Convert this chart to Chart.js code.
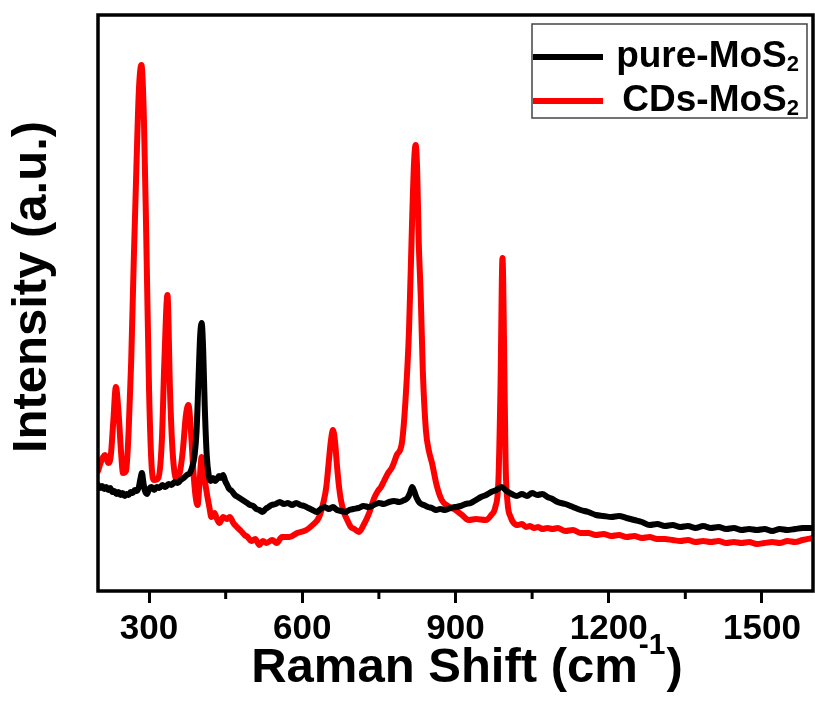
<!DOCTYPE html>
<html><head><meta charset="utf-8">
<script src="https://cdn.jsdelivr.net/npm/chart.js@4.4.1/dist/chart.umd.min.js"></script>
<style>html,body{margin:0;padding:0;background:#fff;}canvas{display:block;}</style>
</head><body>
<canvas id="c" width="815" height="716"></canvas>
<script>
// ---- data ----
const seriesLabels = ['pure-MoS₂', 'CDs-MoS₂'];
const seriesColors = ['#000000', '#ff0000'];
const xTitleMain = 'Raman Shift (cm';
const xTitleSup = '-1';
const xTitleEnd = ')';
const yTitle = 'Intensity (a.u.)';
const majorTicks = [300, 600, 900, 1200, 1500];
const minorTicks = [450, 750, 1050, 1350];

const ramanShiftPure = [
200,204,208,212,216,220,224,228,232,236,
240,244,248,252,256,260,264,268,272,276,
280,283,286,289,292,296,300,305,310,315,
320,326,332,338,344,350,356,362,368,374,
380,385,389,393,397,400,403,406,409,413,
417,421,425,429,433,437,441,445,449,453,
457,462,468,474,480,486,492,498,504,510,
516,522,528,534,540,548,556,564,572,580,
588,596,604,612,620,628,636,644,652,660,
668,676,684,692,700,710,720,730,740,750,
760,770,780,790,800,806,811,815,819,824,
830,838,846,854,862,870,880,890,900,910,
920,930,940,950,960,970,980,990,1000,1010,
1020,1030,1040,1050,1060,1070,1080,1090,1100,1115,
1130,1145,1160,1175,1190,1205,1220,1235,1250,1265,
1280,1295,1310,1325,1340,1355,1370,1385,1400,1415,
1430,1445,1460,1475,1490,1505,1520,1535,1550,1565,
1580,1600];
const intensityPure = [
106,103,105,102,104,101,103,99,100,97,
99,96,98,95,97,96,99,98,101,100,
104,112,118,108,100,97,102,104,101,104,
103,106,104,107,106,109,108,111,113,116,
118,125,135,160,215,255,268,240,185,135,
115,110,113,110,112,115,113,116,110,106,
102,100,96,94,92,90,88,86,85,82,
81,79,82,84,86,87,89,87,88,86,
88,86,85,83,81,79,82,84,82,84,
81,80,79,81,82,83,85,84,86,88,
87,89,90,89,91,93,98,104,100,93,
88,86,84,83,81,82,81,83,84,85,
87,88,91,94,96,99,101,104,100,97,
95,97,95,98,96,97,94,92,89,87,
84,81,79,76,75,74,75,73,71,69,
66,67,65,66,64,65,63,65,63,64,
62,63,61,62,61,62,60,62,61,62,
63,63];

const ramanShiftCDs = [200,205,210,214,220,225,230,235,240,245,249,255,260,265,270,275,280,285,290,295,300,305,310,318,325,330,336,341,346,354,360,366,372,377,382,387,391,395,399,403,408,413,418,422,428,433,438,445,452,458,465,472,480,487,493,500,508,516,523,530,541,550,560,575,590,608,620,633,642,647,652,656,660,664,668,672,676,682,688,695,702,711,720,731,740,748,754,760,768,776,785,795,802,809,815,819,822,825,828,832,836,842,848,854,863,873,885,900,913,926,940,959,970,978,984,988,992,995,998,
1002,1008,1014,1022,1030,1038,1046,1054,1062,1070,1080,1090,1100,1115,1130,1145,1160,1175,1190,1205,1220,1235,1250,1265,1280,1295,1310,1325,1340,1355,1370,1385,1400,1415,1430,1445,1460,1475,1490,1505,1520,1535,1550,1565,1580,1600];
const intensityCDs = [120,128,134,136,128,135,170,204,180,140,118,120,160,230,330,420,500,526,470,340,200,125,111,113,150,230,296,200,140,111,118,140,175,186,160,118,95,86,110,134,115,98,84,74,78,72,68,74,72,74,68,64,60,56,54,50,52,46,50,48,51,48,54,54,58,61,66,74,90,104,130,150,161,150,125,104,90,78,71,64,62,59,66,78,92,100,104,110,118,124,136,148,190,261,370,430,446,420,350,294,220,161,140,128,106,91,85,81,76,71,72,71,76,84,110,200,333,250,130,
88,74,68,66,67,64,65,63,64,62,63,62,63,60,61,58,58,56,57,55,56,54,55,53,54,52,52,51,50,51,49,50,49,50,48,49,48,49,47,48,49,48,50,49,51,53];

// ---- helpers ----
const FONT = '"Liberation Sans", Arial, Helvetica, sans-serif';
function toPoints(xs, ys) { return xs.map((x, i) => ({ x: x, y: ys[i] })); }

const framePlugin = {
  id: 'frameAndLegend',
  afterDatasetsDraw(chart) {
    const { ctx, chartArea: a, scales } = chart;
    const xs = scales.x;
    ctx.save();
    // frame
    ctx.strokeStyle = '#000';
    ctx.lineWidth = 3.5;
    ctx.strokeRect(a.left, a.top, a.right - a.left, a.bottom - a.top);
    // minor ticks
    ctx.lineWidth = 3;
    minorTicks.forEach(v => {
      const px = xs.getPixelForValue(v);
      ctx.beginPath();
      ctx.moveTo(px, a.bottom);
      ctx.lineTo(px, a.bottom + 8);
      ctx.stroke();
    });
    // legend
    const bx = a.right - 281, by = a.top + 9, bw = 275, bh = 94;
    ctx.fillStyle = '#fff';
    ctx.fillRect(bx, by, bw, bh);
    ctx.strokeStyle = '#444';
    ctx.lineWidth = 1.5;
    ctx.strokeRect(bx, by, bw, bh);
    chart.data.datasets.forEach((ds, i) => {
      const cy = by + 33 + i * 44;
      ctx.strokeStyle = ds.borderColor;
      ctx.lineWidth = 6;
      ctx.lineCap = 'butt';
      ctx.beginPath();
      ctx.moveTo(bx + 1, cy);
      ctx.lineTo(bx + 71, cy);
      ctx.stroke();
      let label = ds.label, sub = '';
      if (label.endsWith('₂')) { label = label.slice(0, -1); sub = '2'; }
      ctx.fillStyle = '#000';
      ctx.textBaseline = 'middle';
      ctx.textAlign = 'left';
      ctx.font = 'bold 37px ' + FONT;
      const w1 = ctx.measureText(label).width;
      ctx.font = 'bold 22px ' + FONT;
      const w2 = sub ? ctx.measureText(sub).width : 0;
      const tx = bx + bw - 8 - w1 - w2;
      ctx.font = 'bold 37px ' + FONT;
      ctx.fillText(label, tx, cy);
      if (sub) { ctx.font = 'bold 22px ' + FONT; ctx.fillText(sub, tx + w1, cy + 8); }
    });
    // axis titles
    ctx.fillStyle = '#000';
    ctx.textBaseline = 'alphabetic';
    ctx.textAlign = 'left';
    ctx.font = 'bold 49px ' + FONT;
    const m1 = ctx.measureText(xTitleMain).width;
    const m3 = ctx.measureText(xTitleEnd).width;
    ctx.font = 'bold 30px ' + FONT;
    const m2 = ctx.measureText(xTitleSup).width;
    let tx = 466 - (m1 + m2 + m3) / 2;
    const base = 682;
    ctx.font = 'bold 49px ' + FONT;
    ctx.fillText(xTitleMain, tx, base);
    ctx.font = 'bold 30px ' + FONT;
    ctx.fillText(xTitleSup, tx + m1 + 1, base - 28);
    ctx.font = 'bold 49px ' + FONT;
    ctx.fillText(xTitleEnd, tx + m1 + m2 + 2, base);
    ctx.save();
    ctx.translate(32, 287);
    ctx.rotate(-Math.PI / 2);
    ctx.textAlign = 'center';
    ctx.textBaseline = 'middle';
    ctx.font = 'bold 49px ' + FONT;
    ctx.fillText(yTitle, 0, 0);
    ctx.restore();
    ctx.restore();
  }
};

new Chart(document.getElementById('c'), {
  type: 'line',
  data: {
    datasets: [
      { label: seriesLabels[0], data: toPoints(ramanShiftPure, intensityPure), borderColor: seriesColors[0], backgroundColor: seriesColors[0] },
      { label: seriesLabels[1], data: toPoints(ramanShiftCDs, intensityCDs), borderColor: seriesColors[1], backgroundColor: seriesColors[1] }
    ]
  },
  options: {
    responsive: false,
    animation: false,
    devicePixelRatio: 1,
    layout: { padding: { top: 15, right: 2, left: 0, bottom: 0 } },
    elements: {
      point: { radius: 0 },
      line: { borderWidth: 6, cubicInterpolationMode: 'monotone', borderJoinStyle: 'round', borderCapStyle: 'round', fill: false }
    },
    plugins: { legend: { display: false }, tooltip: { enabled: false } },
    scales: {
      x: {
        type: 'linear', min: 200, max: 1600,
        afterBuildTicks: s => { s.ticks = majorTicks.map(v => ({ value: v })); },
        afterFit: s => { s.height = 125; },
        border: { display: false },
        grid: { drawOnChartArea: false, drawTicks: true, tickLength: 12, tickWidth: 3, tickColor: '#000' },
        ticks: { color: '#000', padding: 5, maxRotation: 0, autoSkip: false, callback: v => String(v), font: { family: FONT, size: 35, weight: 'bold' } },
        title: { display: false }
      },
      y: {
        type: 'linear', min: 0, max: 576,
        afterFit: s => { s.width = 98; },
        border: { display: false },
        grid: { display: false },
        ticks: { display: false },
        title: { display: false }
      }
    }
  },
  plugins: [framePlugin]
});
</script>
</body></html>
